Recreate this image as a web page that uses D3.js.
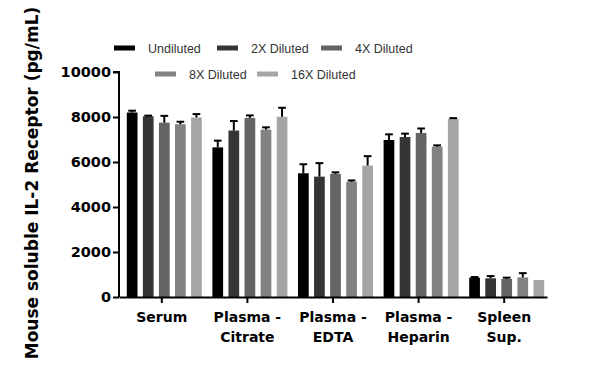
<!DOCTYPE html>
<html>
<head>
<meta charset="utf-8">
<script src="https://cdn.jsdelivr.net/npm/d3@7"></script>
<style>
  body { margin: 0; background: #fff; }
  svg text { font-family: "DejaVu Sans", sans-serif; }
</style>
</head>
<body>
<div id="chart"></div>
<script>
// sample types on x, dilutions as series
var categories = [["Serum"], ["Plasma -", "Citrate"], ["Plasma -", "EDTA"], ["Plasma -", "Heparin"], ["Spleen", "Sup."]];
var seriesNames = ["Undiluted", "2X Diluted", "4X Diluted", "8X Diluted", "16X Diluted"];
var seriesColors = ["#000000", "#353535", "#646464", "#828282", "#a5a5a5"];

var undiluted  = [8200, 6650, 5500, 6980, 860];
var diluted2x  = [8030, 7400, 5350, 7110, 830];
var diluted4x  = [7750, 7960, 5470, 7290, 800];
var diluted8x  = [7680, 7440, 5120, 6680, 870];
var diluted16x = [7980, 8010, 5840, 7910, 756];

var err1  = [80, 300, 400, 250, 30];
var err2  = [30, 420, 600, 150, 100];
var err4  = [300, 110, 70, 200, 60];
var err8  = [110, 100, 60, 60, 190];
var err16 = [150, 400, 420, 40, 0];

var yTicks = [0, 2000, 4000, 6000, 8000, 10000];

var values = [undiluted, diluted2x, diluted4x, diluted8x, diluted16x];
var errors = [err1, err2, err4, err8, err16];

var W = 600, H = 371;
var margin = {top: 72, right: 53, bottom: 74, left: 119};
var width = W - margin.left - margin.right;
var height = H - margin.top - margin.bottom;

var svg = d3.select("#chart").append("svg")
	.attr("width", W)
	.attr("height", H);

var g = svg.append("g").attr("transform", "translate(" + margin.left + "," + margin.top + ")");

var x = d3.scaleBand()
	.domain(d3.range(categories.length))
	.range([0, width])
	.padding(0);

var barStep = 15;
var inner = d3.scaleBand()
	.domain(d3.range(seriesNames.length))
	.range([-(barStep * 5 - 5) / 2, (barStep * 5 - 5) / 2 + 5])
	.paddingInner(5 / 15)
	.paddingOuter(0);

var y = d3.scaleLinear().domain([0, 10000]).range([height, 0]);

// bars
var data = [];
categories.forEach(function(c, ci) {
	seriesNames.forEach(function(s, si) {
		data.push({ci: ci, si: si, v: values[si][ci], e: errors[si][ci]});
	});
});

var bx = function(d) { return x(d.ci) + x.bandwidth() / 2 + inner(d.si); };

g.selectAll("rect.bar")
	.data(data)
	.enter()
	.append("rect")
		.attr("class", "bar")
		.attr("x", bx)
		.attr("y", function(d) { return y(d.v); })
		.attr("width", inner.bandwidth())
		.attr("height", function(d) { return height - y(d.v); })
		.style("fill", function(d) { return seriesColors[d.si]; });

// error bars (upper only)
var eb = g.selectAll("g.err")
	.data(data.filter(function(d) { return d.e > 0; }))
	.enter()
	.append("g")
		.attr("class", "err");
eb.append("line")
	.attr("x1", function(d) { return bx(d) + inner.bandwidth() / 2; })
	.attr("x2", function(d) { return bx(d) + inner.bandwidth() / 2; })
	.attr("y1", function(d) { return y(d.v); })
	.attr("y2", function(d) { return y(d.v + d.e); })
	.attr("stroke", "#000")
	.attr("stroke-width", 2);
eb.append("line")
	.attr("x1", function(d) { return bx(d) + 1.5; })
	.attr("x2", function(d) { return bx(d) + inner.bandwidth() - 1.5; })
	.attr("y1", function(d) { return y(d.v + d.e); })
	.attr("y2", function(d) { return y(d.v + d.e); })
	.attr("stroke", "#000")
	.attr("stroke-width", 2);

// y axis
var yaxis = g.append("g")
	.call(d3.axisLeft(y).tickValues(yTicks).tickFormat(d3.format("d")).tickSize(6).tickPadding(2).tickSizeOuter(6));
yaxis.select(".domain").attr("stroke-width", 2).attr("d", "M-6,0H0V" + height);
yaxis.selectAll(".tick line").attr("stroke-width", 2);
yaxis.selectAll("text")
	.attr("font-size", "14.5px")
	.attr("font-weight", "bold")
	.attr("fill", "#000");

// x axis
var xaxis = g.append("g")
	.attr("transform", "translate(0," + height + ")")
	.call(d3.axisBottom(x).tickSize(6).tickSizeOuter(0).tickFormat(""));
xaxis.select(".domain").attr("stroke-width", 2);
xaxis.selectAll(".tick line").attr("stroke-width", 2);

xaxis.selectAll(".tick").each(function(d) {
	var t = d3.select(this).append("text")
		.attr("fill", "#000")
		.attr("text-anchor", "middle")
		.attr("font-size", "14px")
		.attr("font-weight", "bold");
	categories[d].forEach(function(line, li) {
		t.append("tspan")
			.attr("x", 0)
			.attr("y", 25 + li * 20)
			.text(line);
	});
});

// y title
svg.append("text")
	.attr("transform", "translate(38," + 183 + ") rotate(-90)")
	.attr("text-anchor", "middle")
	.attr("font-size", "17px")
	.attr("font-weight", "bold")
	.attr("fill", "#000")
	.text("Mouse soluble IL-2 Receptor (pg/mL)");

// legend
var legendPos = [[114, 48], [217, 48], [321, 48], [155, 74], [257, 74]];
var lg = svg.selectAll("g.legend")
	.data(seriesNames)
	.enter()
	.append("g")
		.attr("class", "legend")
		.attr("transform", function(d, i) { return "translate(" + legendPos[i][0] + "," + legendPos[i][1] + ")"; });
lg.append("rect")
	.attr("x", 0)
	.attr("y", -2.5)
	.attr("width", 21)
	.attr("height", 5)
	.style("fill", function(d, i) { return seriesColors[i]; });
lg.append("text")
	.attr("x", 34)
	.attr("y", 4.5)
	.attr("font-size", "12.5px")
	.attr("fill", "#333")
	.style("font-family", "'Liberation Sans', sans-serif")
	.text(function(d) { return d; });
</script>
</body>
</html>
